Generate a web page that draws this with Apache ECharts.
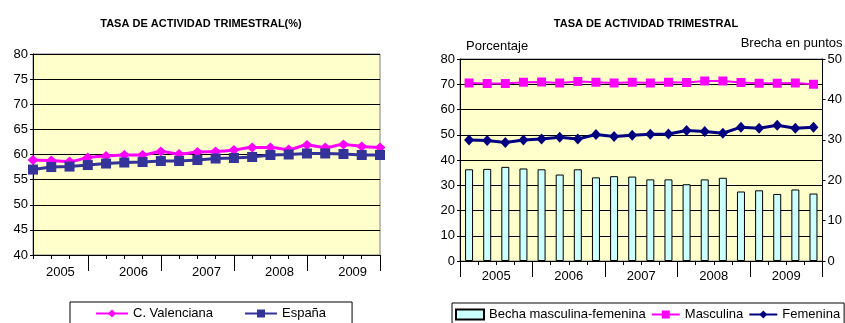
<!DOCTYPE html>
<html>
<head>
<meta charset="utf-8">
<script src="https://cdn.jsdelivr.net/npm/echarts@6/dist/echarts.min.js"></script>
<style>
html,body{margin:0;padding:0;background:#fff;}
#c{width:845px;height:323px;}
</style>
</head>
<body>
<div id="c"></div>
<script>
const quarters = ['2005-T1','2005-T2','2005-T3','2005-T4','2006-T1','2006-T2','2006-T3','2006-T4','2007-T1','2007-T2','2007-T3','2007-T4','2008-T1','2008-T2','2008-T3','2008-T4','2009-T1','2009-T2','2009-T3','2009-T4'];
const years = ['2005','2006','2007','2008','2009'];
const cValenciana = [58.9,58.8,58.6,59.4,59.7,59.9,59.9,60.6,60.1,60.5,60.6,60.9,61.4,61.4,61.0,61.9,61.4,62.0,61.6,61.4];
const espana = [57.0,57.5,57.6,57.9,58.2,58.4,58.5,58.7,58.7,58.9,59.2,59.3,59.5,59.9,60.0,60.2,60.2,60.1,59.9,59.9];
const masculina = [70.5,70.3,70.3,70.8,70.9,70.5,71.1,70.8,70.5,70.8,70.5,70.8,70.7,71.3,71.3,70.7,70.4,70.4,70.5,70.0];
const femenina = [47.9,47.7,46.9,47.9,48.3,49.0,48.3,50.1,49.3,49.8,50.2,50.3,51.7,51.3,50.6,53.0,52.6,53.8,52.6,53.0];
const brecha = [22.7,22.8,23.3,22.9,22.7,21.4,22.7,20.7,21.0,20.9,20.2,20.2,19.0,20.2,20.6,17.2,17.5,16.6,17.7,16.7];

const FONT = 'Liberation Sans, Arial, sans-serif';
const txt = {color:'#000', fontFamily: FONT, fontSize: 13};
const blackLine = {lineStyle:{color:'#000', width:1}};

const chart = echarts.init(document.getElementById('c'), null, {renderer:'canvas'});
const yearMid = years.map((y,i)=> i*4+1.5);
const yearEnd = years.map((y,i)=> i*4+3);

chart.setOption({
  animation:false,
  backgroundColor:'#fff',
  title:[
    {text:'TASA DE ACTIVIDAD TRIMESTRAL(%)', left:196, top:13, textAlign:'center',
     textStyle:{fontFamily:FONT, fontSize:11, fontWeight:'bold', color:'#000'}},
    {text:'TASA DE ACTIVIDAD TRIMESTRAL', left:641, top:13, textAlign:'center',
     textStyle:{fontFamily:FONT, fontSize:11, fontWeight:'bold', color:'#000'}}
  ],
  grid:[
    {left:33, right:465, top:54, bottom:68, show:true, backgroundColor:'#FFFFCC', borderColor:'#808080', borderWidth:1},
    {left:460, right:22, top:59, bottom:62, show:true, backgroundColor:'#FFFFCC', borderColor:'#808080', borderWidth:1}
  ],
  legend:[
    {left:70, top:302, orient:'horizontal', data:['C. Valenciana','España'],
     borderColor:'#000', borderWidth:1, backgroundColor:'#fff', padding:[5,26,8,25], itemGap:31,
     itemWidth:32, itemHeight:10, textStyle:txt},
    {left:452, top:303, orient:'horizontal', data:[{name:'Becha masculina-femenina', icon:'rect'},'Masculina','Femenina'],
     borderColor:'#000', borderWidth:1, backgroundColor:'#fff', padding:[5,4,8,3], itemGap:5,
     itemWidth:28, itemHeight:10, textStyle:txt}
  ],
  xAxis:[
    {type:'category', gridIndex:0, data:quarters, boundaryGap:false,
     axisLine:blackLine, axisTick:{show:true, interval:0, length:4, lineStyle:{color:'#000'}},
     axisLabel:{show:false}, splitLine:{show:false}},
    {type:'value', gridIndex:0, min:0, max:19, position:'bottom',
     axisLine:{show:false},
     axisTick:{show:true, customValues:yearEnd, length:16, lineStyle:{color:'#000'}},
     axisLabel:{show:true, customValues:yearMid, margin:11, formatter:(v)=>years[Math.round((v-1.5)/4)], ...txt},
     splitLine:{show:false}},
    {type:'category', gridIndex:1, data:quarters, boundaryGap:true,
     axisLine:blackLine, axisTick:{show:true, interval:0, length:4, lineStyle:{color:'#000'}},
     axisLabel:{show:false}, splitLine:{show:false}},
    {type:'category', gridIndex:1, data:years, boundaryGap:true, position:'bottom',
     axisLine:{show:false},
     axisTick:{show:true, interval:0, length:16, lineStyle:{color:'#000'}},
     axisLabel:{show:true, interval:0, margin:9, ...txt},
     splitLine:{show:false}}
  ],
  yAxis:[
    {type:'value', gridIndex:0, min:40, max:80, interval:5,
     axisLine:{show:true, ...blackLine}, axisTick:{show:true, length:3, lineStyle:{color:'#000'}},
     axisLabel:{margin:5, ...txt}, splitLine:{show:true, lineStyle:{color:'#000', width:1}}},
    {type:'value', gridIndex:1, min:0, max:80, interval:10, position:'left',
     name:'Porcentaje', nameLocation:'end', nameGap:6,
     nameTextStyle:{...txt, align:'left', padding:[0,0,0,6]},
     axisLine:{show:true, ...blackLine}, axisTick:{show:true, length:3, lineStyle:{color:'#000'}},
     axisLabel:{margin:5, ...txt}, splitLine:{show:true, lineStyle:{color:'#000', width:1}}},
    {type:'value', gridIndex:1, min:0, max:50, interval:10, position:'right',
     name:'Brecha en puntos', nameLocation:'end', nameGap:9,
     nameTextStyle:{...txt, align:'right', padding:[0,-20,0,0]},
     axisLine:{show:true, ...blackLine}, axisTick:{show:true, length:3, lineStyle:{color:'#000'}},
     axisLabel:{margin:5, ...txt}, splitLine:{show:false}}
  ],
  series:[
    {name:'C. Valenciana', type:'line', xAxisIndex:0, yAxisIndex:0, data:cValenciana, smooth:0.3,
     symbol:'diamond', symbolSize:[11,10], showAllSymbol:true,
     lineStyle:{color:'#FF00FF', width:3}, itemStyle:{color:'#FF00FF'}},
    {name:'España', type:'line', xAxisIndex:0, yAxisIndex:0, data:espana,
     symbol:'rect', symbolSize:10, showAllSymbol:true,
     lineStyle:{color:'#333399', width:3}, itemStyle:{color:'#333399'}},
    {name:'Becha masculina-femenina', type:'bar', xAxisIndex:2, yAxisIndex:2, data:brecha, barWidth:8,
     itemStyle:{color:'#CCFFFF', borderColor:'#000', borderWidth:1}},
    {name:'Masculina', type:'line', xAxisIndex:2, yAxisIndex:1, data:masculina,
     symbol:'rect', symbolSize:9, showAllSymbol:true,
     lineStyle:{color:'#FF00FF', width:2}, itemStyle:{color:'#FF00FF'}},
    {name:'Femenina', type:'line', xAxisIndex:2, yAxisIndex:1, data:femenina,
     symbol:'diamond', symbolSize:[10,11], showAllSymbol:true,
     lineStyle:{color:'#000080', width:3}, itemStyle:{color:'#000080'}}
  ]
});
</script>
</body>
</html>
